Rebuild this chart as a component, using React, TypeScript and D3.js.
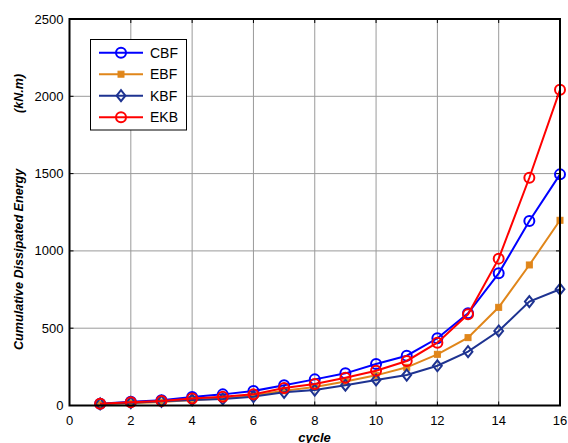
import React from "react";
import * as d3 from "d3";

const cycles = [1, 2, 3, 4, 5, 6, 7, 8, 9, 10, 11, 12, 13, 14, 15, 16];
const cbf = [12, 25, 34, 55, 72, 94, 131, 169, 208, 268, 322, 435, 596, 855, 1193, 1495];
const ebf = [8, 15, 22, 35, 45, 65, 95, 120, 155, 195, 247, 331, 439, 635, 909, 1198];
const kbf = [10, 18, 27, 36, 42, 57, 85, 100, 131, 165, 197, 257, 348, 482, 672, 752];
const ekb = [12, 21, 29, 46, 57, 72, 113, 139, 180, 225, 288, 406, 590, 950, 1473, 2042];
const xTicks = [0, 2, 4, 6, 8, 10, 12, 14, 16];
const yTicks = [0, 500, 1000, 1500, 2000, 2500];

const seriesNames = ["CBF", "EBF", "KBF", "EKB"];
const seriesColors = ["#0000FF", "#E0861A", "#1E3391", "#FF0000"];
const seriesMarkers = ["circle", "square", "diamond", "circle"];
const seriesData = [cbf, ebf, kbf, ekb];

const W = 568, H = 443;
const L = 69.5, R = 560, T = 19, B = 405.5;

function Marker({ type, x, y, color }: { type: string; x: number; y: number; color: string }) {
  if (type === "circle") return <circle cx={x} cy={y} r={5} fill="none" stroke={color} strokeWidth={2} />;
  if (type === "square") return <rect x={x - 3} y={y - 3} width={6} height={6} fill={color} stroke={color} strokeWidth={1} />;
  const s = 5.5;
  return <path d={`M${x},${y - s}L${x + s * 0.8},${y}L${x},${y + s}L${x - s * 0.8},${y}Z`} fill="none" stroke={color} strokeWidth={2} />;
}

export default function App() {
  const x = d3.scaleLinear().domain([0, 16]).range([L, R]);
  const y = d3.scaleLinear().domain([0, 2500]).range([B, T]);
  const line = d3.line<number>().x((_, i) => x(cycles[i])).y((d) => y(d));
  const font = "Arial, 'Liberation Sans', sans-serif";
  return (
    <svg width={W} height={H} style={{ position: "fixed", left: 0, top: 0, background: "#fff" }} fontFamily={font}>
      <rect x={0} y={0} width={W} height={H} fill="#fff" />
      {/* grid */}
      {xTicks.slice(1, -1).map((t) => (
        <line key={"gx" + t} x1={x(t)} x2={x(t)} y1={T} y2={B} stroke="#9a9a9a" strokeWidth={1} />
      ))}
      {yTicks.slice(1, -1).map((t) => (
        <line key={"gy" + t} x1={L} x2={R} y1={y(t)} y2={y(t)} stroke="#9a9a9a" strokeWidth={1} />
      ))}
      {/* ticks */}
      {xTicks.map((t) => (
        <g key={"tx" + t}>
          <line x1={x(t)} x2={x(t)} y1={B} y2={B - 4} stroke="#000" />
          <line x1={x(t)} x2={x(t)} y1={T} y2={T + 4} stroke="#000" />
          <text x={x(t)} y={425} fontSize={13} textAnchor="middle" fill="#000">{t}</text>
        </g>
      ))}
      {yTicks.map((t) => (
        <g key={"ty" + t}>
          <line x1={L} x2={L + 4} y1={y(t)} y2={y(t)} stroke="#000" />
          <line x1={R} x2={R - 4} y1={y(t)} y2={y(t)} stroke="#000" />
          <text x={63.5} y={y(t) + 4.5} fontSize={13} textAnchor="end" fill="#000">{t}</text>
        </g>
      ))}
      {/* series */}
      {seriesData.map((d, si) => (
        <g key={"s" + si}>
          <path d={line(d) || ""} fill="none" stroke={seriesColors[si]} strokeWidth={2} />
          {d.map((v, i) => (
            <Marker key={i} type={seriesMarkers[si]} x={x(cycles[i])} y={y(v)} color={seriesColors[si]} />
          ))}
        </g>
      ))}
      {/* axes box */}
      <rect x={L} y={T} width={R - L} height={B - T} fill="none" stroke="#000" strokeWidth={2} />
      {/* legend */}
      <rect x={90.5} y={39.5} width={96} height={90.5} fill="#fff" stroke="#000" strokeWidth={1} />
      {seriesNames.map((n, i) => {
        const ly = 52.7 + i * 21.5;
        return (
          <g key={"l" + i}>
            <line x1={99} x2={143} y1={ly} y2={ly} stroke={seriesColors[i]} strokeWidth={2} />
            <Marker type={seriesMarkers[i]} x={121} y={ly} color={seriesColors[i]} />
            <text x={150} y={ly + 5} fontSize={14} fill="#000">{n}</text>
          </g>
        );
      })}
      {/* axis labels */}
      <text x={314.5} y={441.5} fontSize={13} fontWeight="bold" fontStyle="italic" textAnchor="middle" fill="#000">cycle</text>
      <text transform="translate(23,350) rotate(-90)" fontSize={12.6} fontWeight="bold" fontStyle="italic" textAnchor="start" fill="#000">
        Cumulative Dissipated Energy
      </text>
      <text transform="translate(23,113) rotate(-90)" fontSize={12.6} fontWeight="bold" fontStyle="italic" textAnchor="start" fill="#000">
        (kN.m)
      </text>
    </svg>
  );
}
